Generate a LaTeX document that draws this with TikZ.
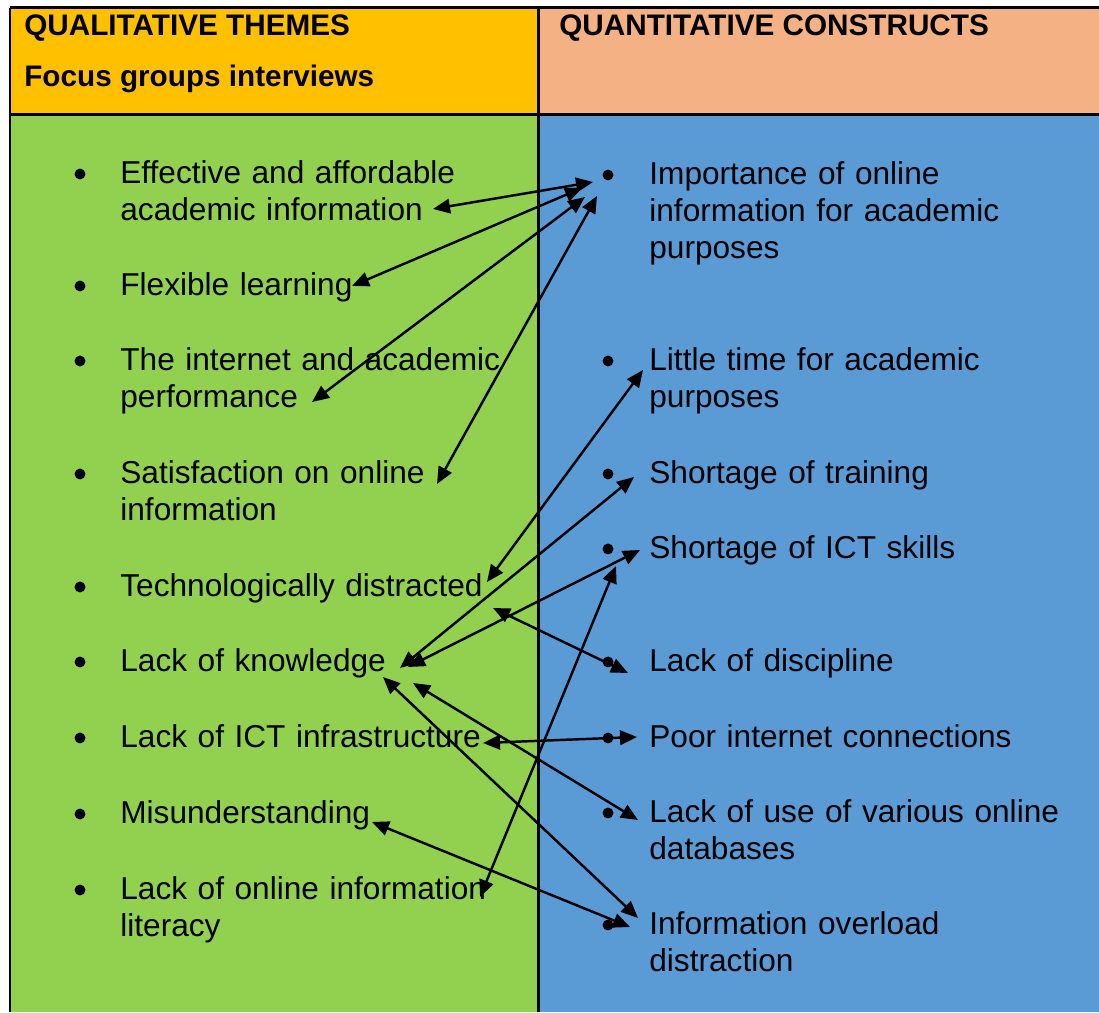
\documentclass[tikz,border=0pt]{standalone}
\usepackage{fontspec}
\setmainfont{Liberation Sans}
\usetikzlibrary{arrows.meta}
\definecolor{QualOrange}{HTML}{FFC000}
\definecolor{QuanPeach}{HTML}{F4B183}
\definecolor{QualGreen}{HTML}{92D050}
\definecolor{QuanBlue}{HTML}{5B9BD5}
\newcommand{\themefont}{\fontsize{18.0}{21.06}\selectfont}
\newcommand{\headfont}{\fontsize{16.9}{19}\selectfont\bfseries}

\begin{document}
\begin{tikzpicture}[x=1cm,y=1cm,
  theme/.style={anchor=base west,inner sep=0pt,align=left,text width=8.9cm,font=\themefont},
  head/.style={anchor=base west,inner sep=0pt,font=\headfont},
  rule/.style={line width=1.7pt},
  link/.style={line width=1.4pt,{Triangle[length=0.34cm,width=0.29cm]}-{Triangle[length=0.34cm,width=0.29cm]}}]
\path[use as bounding box] (0,0) rectangle (21.98,20.24);
\fill[white] (0,0) rectangle (21.98,20.24);
\fill[QualOrange] (0.20,17.95) rectangle (10.77,20.08);
\fill[QuanPeach] (10.77,17.95) rectangle (21.98,20.08);
\fill[QualGreen] (0.20,0) rectangle (10.77,17.95);
\fill[QuanBlue] (10.77,0) rectangle (21.98,17.95);
\draw[rule] (0.20,20.08) -- (21.98,20.08);
\draw[rule] (0.20,17.95) -- (21.98,17.95);
\draw[rule] (0.20,0) -- (0.20,20.08);
\draw[rule] (10.77,0) -- (10.77,20.08);
\node[head] (qualhead) at (0.48,19.52) {QUALITATIVE THEMES};
\node[head] (focushead) at (0.48,18.50) {Focus groups interviews};
\node[head] (quanhead) at (11.18,19.52) {QUANTITATIVE CONSTRUCTS};
\fill (1.60,16.76) circle (0.11);
\node[theme] (eff) at (2.40,16.57) {Effective and affordable\\academic information};
\fill (1.60,14.52) circle (0.11);
\node[theme] (flex) at (2.40,14.33) {Flexible learning};
\fill (1.60,13.02) circle (0.11);
\node[theme] (inet) at (2.40,12.83) {The internet and academic\\performance};
\fill (1.60,10.76) circle (0.11);
\node[theme] (satis) at (2.40,10.57) {Satisfaction on online\\information};
\fill (1.60,8.50) circle (0.11);
\node[theme] (distr) at (2.40,8.31) {Technologically distracted};
\fill (1.60,7.00) circle (0.11);
\node[theme] (knowl) at (2.40,6.81) {Lack of knowledge};
\fill (1.60,5.48) circle (0.11);
\node[theme] (infra) at (2.40,5.29) {Lack of ICT infrastructure};
\fill (1.60,3.96) circle (0.11);
\node[theme] (misund) at (2.40,3.77) {Misunderstanding};
\fill (1.60,2.44) circle (0.11);
\node[theme] (litr) at (2.40,2.25) {Lack of online information\\literacy};
\fill (12.16,16.74) circle (0.11);
\node[theme] (imp) at (12.98,16.55) {Importance of online\\information for academic\\purposes};
\fill (12.16,13.02) circle (0.11);
\node[theme] (ltime) at (12.98,12.83) {Little time for academic\\purposes};
\fill (12.16,10.76) circle (0.11);
\node[theme] (strain) at (12.98,10.57) {Shortage of training};
\fill (12.16,9.26) circle (0.11);
\node[theme] (sict) at (12.98,9.07) {Shortage of ICT skills};
\fill (12.16,7.00) circle (0.11);
\node[theme] (disc) at (12.98,6.81) {Lack of discipline};
\fill (12.16,5.48) circle (0.11);
\node[theme] (pconn) at (12.98,5.29) {Poor internet connections};
\fill (12.16,3.98) circle (0.11);
\node[theme] (dbuse) at (12.98,3.79) {Lack of use of various online\\databases};
\fill (12.16,1.74) circle (0.11);
\node[theme] (overl) at (12.98,1.55) {Information overload\\distraction};
\coordinate (effR) at (8.66,16.06);
\coordinate (flexR) at (7.04,14.52);
\coordinate (inetR) at (6.24,12.20);
\coordinate (satisR) at (8.74,10.56);
\coordinate (distrR) at (9.74,8.60);
\coordinate (distrL) at (9.86,8.08);
\coordinate (knowlA) at (8.00,6.88);
\coordinate (knowlB) at (8.16,6.90);
\coordinate (knowlC) at (8.26,6.58);
\coordinate (knowlD) at (7.66,6.70);
\coordinate (infraR) at (9.66,5.38);
\coordinate (misundR) at (7.44,3.80);
\coordinate (litrR) at (9.60,2.30);
\coordinate (impA) at (11.86,16.60);
\coordinate (impB) at (11.64,16.48);
\coordinate (impC) at (11.70,16.30);
\coordinate (impD) at (11.94,16.32);
\coordinate (ltimeL) at (12.86,12.84);
\coordinate (strainL) at (12.68,10.70);
\coordinate (sictA) at (12.80,9.24);
\coordinate (sictB) at (12.32,8.92);
\coordinate (discL) at (12.56,6.78);
\coordinate (pconnL) at (12.74,5.50);
\coordinate (dbuseL) at (12.76,3.84);
\coordinate (overlA) at (12.76,1.88);
\coordinate (overlB) at (12.60,1.70);
\draw[link] (effR) -- (impA);
\draw[link] (flexR) -- (impB);
\draw[link] (inetR) -- (impC);
\draw[link] (satisR) -- (impD);
\draw[link] (distrR) -- (ltimeL);
\draw[link] (knowlA) -- (strainL);
\draw[link] (knowlB) -- (sictA);
\draw[link] (distrL) -- (discL);
\draw[link] (infraR) -- (pconnL);
\draw[link] (knowlC) -- (dbuseL);
\draw[link] (knowlD) -- (overlA);
\draw[link] (misundR) -- (overlB);
\draw[link] (litrR) -- (sictB);
\end{tikzpicture}
\end{document}
